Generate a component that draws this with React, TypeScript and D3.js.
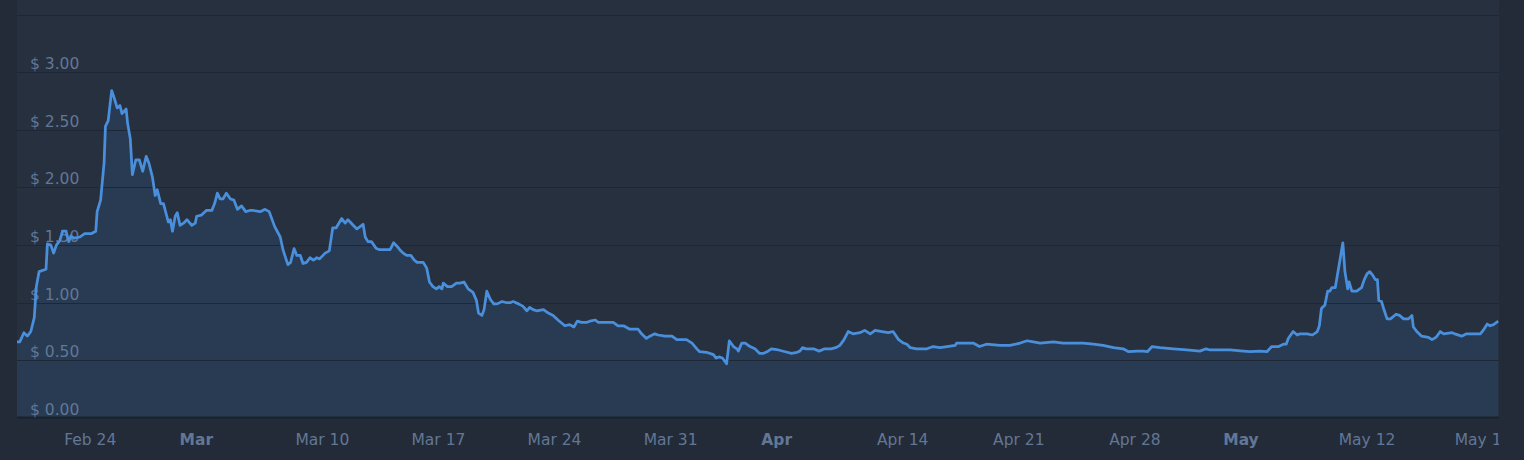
import React from "react";
import * as d3 from "d3";

// [hours since 2025-02-24 00:00 UTC, price in USD]
const priceHistory: [number, number][] = [
  [-106,0.66],[-102,0.66],[-96,0.74],[-91,0.71],[-86,0.75],[-81,0.87],[-78,1.14],[-74,1.27],[-64,1.29],[-62,1.51],
  [-57,1.50],[-53,1.43],[-49,1.50],[-44,1.54],[-40,1.62],[-35,1.62],[-31,1.53],[-28,1.58],[-24,1.56],[-15,1.57],
  [-8,1.60],[2,1.60],[8,1.62],[10,1.79],[15,1.89],[20,2.21],[22,2.53],[26,2.58],[31,2.84],[34,2.79],
  [39,2.69],[43,2.71],[46,2.64],[52,2.68],[54,2.56],[58,2.42],[61,2.11],[66,2.24],[71,2.24],[76,2.14],
  [81,2.27],[85,2.21],[90,2.09],[94,1.93],[97,1.98],[102,1.86],[106,1.86],[113,1.70],[116,1.72],[119,1.62],
  [123,1.75],[126,1.78],[130,1.67],[135,1.69],[140,1.72],[147,1.67],[152,1.69],[154,1.75],[161,1.76],[168,1.80],
  [176,1.80],[180,1.86],[184,1.95],[188,1.90],[192,1.90],[197,1.95],[203,1.90],[208,1.89],[213,1.81],[219,1.84],
  [225,1.79],[231,1.80],[236,1.80],[246,1.79],[253,1.81],[259,1.79],[267,1.66],[275,1.57],[279,1.46],[286,1.33],
  [290,1.35],[295,1.47],[299,1.41],[304,1.41],[308,1.34],[313,1.35],[318,1.39],[323,1.37],[328,1.39],[332,1.38],
  [340,1.43],[346,1.45],[351,1.65],[356,1.65],[364,1.73],[369,1.69],[373,1.72],[381,1.67],[386,1.64],[395,1.68],
  [398,1.57],[402,1.53],[407,1.53],[414,1.47],[419,1.46],[434,1.46],[439,1.52],[444,1.49],[448,1.46],[453,1.43],
  [458,1.41],[464,1.41],[469,1.37],[473,1.35],[482,1.35],[487,1.30],[491,1.18],[496,1.14],[501,1.12],[505,1.14],
  [509,1.12],[511,1.17],[517,1.14],[523,1.14],[530,1.17],[535,1.17],[541,1.18],[547,1.12],[554,1.09],[559,1.02],
  [562,0.91],[567,0.89],[570,0.94],[574,1.10],[579,1.03],[584,0.99],[589,0.99],[596,1.01],[603,1.00],[608,1.00],
  [612,1.01],[620,0.99],[626,0.97],[632,0.93],[636,0.96],[641,0.94],[646,0.93],[656,0.94],[663,0.91],[670,0.89],
  [677,0.85],[687,0.80],[694,0.81],[700,0.79],[705,0.84],[711,0.83],[719,0.83],[723,0.84],[731,0.85],[735,0.83],
  [745,0.83],[757,0.83],[764,0.80],[772,0.80],[781,0.77],[793,0.77],[798,0.73],[805,0.69],[810,0.71],[817,0.73],
  [822,0.72],[832,0.71],[842,0.71],[849,0.68],[856,0.68],[863,0.68],[871,0.65],[878,0.60],[882,0.575],[892,0.57],
  [902,0.55],[906,0.52],[910,0.53],[915,0.52],[921,0.47],[925,0.67],[931,0.62],[936,0.60],[938,0.58],[943,0.65],
  [948,0.65],[955,0.62],[962,0.60],[969,0.56],[974,0.56],[981,0.58],[986,0.60],[996,0.59],[1006,0.575],[1015,0.56],
  [1023,0.57],[1027,0.58],[1031,0.61],[1036,0.60],[1047,0.60],[1055,0.58],[1063,0.60],[1072,0.60],[1079,0.61],[1085,0.63],
  [1091,0.68],[1097,0.75],[1104,0.73],[1114,0.74],[1121,0.76],[1129,0.73],[1136,0.76],[1146,0.75],[1155,0.74],[1162,0.75],
  [1170,0.68],[1177,0.65],[1182,0.64],[1187,0.61],[1196,0.60],[1211,0.60],[1220,0.62],[1230,0.61],[1240,0.62],[1252,0.63],
  [1254,0.65],[1269,0.65],[1278,0.65],[1287,0.62],[1297,0.64],[1317,0.63],[1331,0.63],[1346,0.65],[1356,0.67],[1365,0.66],
  [1375,0.65],[1394,0.66],[1408,0.65],[1423,0.65],[1437,0.65],[1452,0.64],[1466,0.63],[1481,0.61],[1495,0.60],[1503,0.575],
  [1515,0.58],[1524,0.58],[1530,0.575],[1537,0.62],[1548,0.61],[1568,0.60],[1587,0.59],[1606,0.58],[1615,0.60],[1621,0.59],
  [1650,0.59],[1669,0.58],[1679,0.575],[1693,0.58],[1703,0.575],[1710,0.62],[1720,0.62],[1727,0.64],[1731,0.64],[1734,0.69],
  [1741,0.75],[1747,0.72],[1751,0.73],[1761,0.73],[1769,0.72],[1776,0.75],[1779,0.80],[1782,0.95],[1787,0.98],[1791,1.10],
  [1794,1.10],[1797,1.13],[1802,1.13],[1813,1.52],[1816,1.27],[1820,1.12],[1822,1.18],[1826,1.10],[1833,1.10],[1840,1.13],
  [1844,1.20],[1848,1.25],[1852,1.27],[1856,1.24],[1860,1.20],[1863,1.20],[1865,1.02],[1869,1.01],[1872,0.95],[1877,0.86],
  [1882,0.86],[1890,0.90],[1895,0.89],[1901,0.86],[1908,0.86],[1913,0.89],[1915,0.79],[1920,0.75],[1927,0.71],[1937,0.70],
  [1942,0.68],[1948,0.70],[1954,0.75],[1959,0.73],[1971,0.74],[1975,0.73],[1985,0.71],[1992,0.73],[2012,0.73],[2016,0.76],
  [2022,0.815],[2026,0.80],[2031,0.81],[2038,0.84],
];

const xDomainHours: [number, number] = [-106, 2039];

const xTickDates = ["2025-02-24","2025-03-03","2025-03-10","2025-03-17","2025-03-24","2025-03-31","2025-04-07","2025-04-14","2025-04-21","2025-04-28","2025-05-05","2025-05-12","2025-05-19"];
const xTickLabels = ["Feb 24","Mar","Mar 10","Mar 17","Mar 24","Mar 31","Apr","Apr 14","Apr 21","Apr 28","May","May 12","May 19"];
const xTickBold = [false,true,false,false,false,false,true,false,false,false,true,false,false];

const yGridValues = [0, 0.5, 1, 1.5, 2, 2.5, 3, 3.5];
const yTickValues = [0, 0.5, 1, 1.5, 2, 2.5, 3];
const yTickLabels = ["$ 0.00","$ 0.50","$ 1.00","$ 1.50","$ 2.00","$ 2.50","$ 3.00"];

const W = 1524, H = 460;
const PL = 17, PR = 1499, PT = 14.5, PB = 418;
const BASE = Date.UTC(2025, 1, 24);
const FONT = "'DejaVu Sans', Verdana, sans-serif";
const TEXT = "#627795";

export default function App() {
  const x = d3.scaleUtc()
    .domain(xDomainHours.map((h) => new Date(BASE + h * 3600e3)))
    .range([PL, PR]);
  const y = d3.scaleLinear().domain([0, 3.5]).range([PB, PT]);

  const pts = priceHistory.map(([h, p]) => ({ t: new Date(BASE + h * 3600e3), p }));
  const line = d3.line<{ t: Date; p: number }>().x((d) => x(d.t)).y((d) => y(d.p));
  const area = d3.area<{ t: Date; p: number }>().x((d) => x(d.t)).y0(PB).y1((d) => y(d.p));

  return (
    <svg width={W} height={H} style={{ position: "absolute", left: 0, top: 0, display: "block" }}>
      <defs>
        <clipPath id="plotClip">
          <rect x={PL} y={0} width={PR - PL} height={PB} />
        </clipPath>
        <clipPath id="labelClip">
          <rect x={0} y={0} width={PR} height={H} />
        </clipPath>
      </defs>
      <rect x={0} y={0} width={W} height={H} fill="#232b38" />
      <rect x={PL} y={0} width={PR - PL} height={PB} fill="#26303f" />
      <g clipPath="url(#plotClip)">
        <path d={area(pts) || ""} fill="#283b53" />
      </g>
      {yGridValues.map((v) => (
        <line key={v} x1={PL} x2={PR} y1={Math.round(y(v)) + 0.5} y2={Math.round(y(v)) + 0.5} stroke="#1f2734" strokeWidth={1} />
      ))}
      <line x1={PL} x2={PR} y1={PB - 0.5} y2={PB - 0.5} stroke="#1b222d" strokeWidth={2} />
      {yTickValues.map((v, i) => (
        <text key={v} x={30} y={y(v) - 3} fill={TEXT} fontFamily={FONT} fontSize={15.5}>
          {yTickLabels[i]}
        </text>
      ))}
      <g clipPath="url(#plotClip)">
        <path d={line(pts) || ""} fill="none" stroke="#4a8fdb" strokeWidth={2.75} strokeLinejoin="round" />
      </g>
      <g clipPath="url(#labelClip)">
        {xTickDates.map((d, i) => (
          <text
            key={d}
            x={x(new Date(d + "T00:00:00Z")) + (xTickBold[i] ? -10 : 0)}
            y={445}
            textAnchor="middle"
            fill={TEXT}
            fontFamily={FONT}
            fontSize={15.5}
            fontWeight={xTickBold[i] ? "bold" : "normal"}
          >
            {xTickLabels[i]}
          </text>
        ))}
      </g>
    </svg>
  );
}
